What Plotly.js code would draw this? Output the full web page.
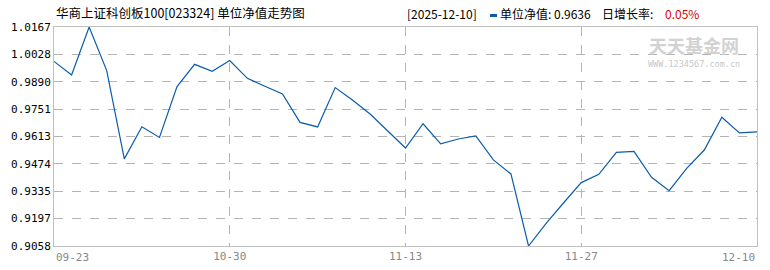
<!DOCTYPE html>
<html>
<head>
<meta charset="utf-8">
<script src="https://cdn.plot.ly/plotly-3.0.1.min.js"></script>
<style>html,body{margin:0;padding:0;background:#fff;}#chart{width:770px;height:270px;}</style>
</head>
<body>
<div id="chart"></div>
<script>
// Unit NAV series (41 points)
const navValues = [
  0.9993, 0.9924, 1.0167, 0.9946, 0.9499, 0.9662, 0.9608, 0.9865, 0.9978, 0.9943,
  0.9997, 0.9907, 0.9867, 0.9828, 0.9684, 0.9661, 0.9860, 0.9796, 0.9725, 0.9637,
  0.9554, 0.9677, 0.9575, 0.9600, 0.9615, 0.9494, 0.9423, 0.9058, 0.9173, 0.9277,
  0.9379, 0.9421, 0.9532, 0.9537, 0.9406, 0.9338, 0.9451, 0.9544, 0.9710, 0.9631,
  0.9636
];
const pointIndex = navValues.map((v, i) => i);
const xTickIndex = [0, 10, 20, 30, 40];
const xTickLabels = ['09-23', '10-30', '11-13', '11-27', '12-10'];
const yTickValues = [0.9058, 0.9197, 0.9335, 0.9474, 0.9613, 0.9751, 0.9890, 1.0028, 1.0167];
const yTickLabels = ['0.9058', '0.9197', '0.9335', '0.9474', '0.9613', '0.9751', '0.9890', '1.0028', '1.0167'];
const titleText = '华商上证科创板100[023324] 单位净值走势图';
const latestDate = '[2025-12-10]';
const latestNav = '0.9636';
const latestGrowth = '0.05%';

const monoFont = 'DejaVu Sans Mono, Liberation Mono, monospace';
const cjkFont = 'Noto Sans CJK SC, sans-serif';

const trace = {
  x: pointIndex,
  y: navValues,
  type: 'scatter',
  mode: 'lines',
  line: {color: '#0b5cab', width: 1.2},
  hoverinfo: 'skip'
};

const annotations = [
  {text: titleText, xref: 'paper', yref: 'paper', x: 0, y: 1, xanchor: 'left', yanchor: 'bottom', yshift: 3,
   showarrow: false, font: {family: cjkFont, size: 12.5, color: '#000'}},
  {text: latestDate, xref: 'paper', yref: 'paper', x: (405 - 54) / 703, y: 1, xanchor: 'left', yanchor: 'bottom', yshift: 3,
   showarrow: false, font: {family: cjkFont, size: 12, color: '#000'}},
  {text: '单位净值: ' + latestNav, xref: 'paper', yref: 'paper', x: (498 - 54) / 703, y: 1, xanchor: 'left', yanchor: 'bottom', yshift: 3,
   showarrow: false, font: {family: cjkFont, size: 12, color: '#000'}},
  {text: '日增长率: ', xref: 'paper', yref: 'paper', x: (600 - 54) / 703, y: 1, xanchor: 'left', yanchor: 'bottom', yshift: 3,
   showarrow: false, font: {family: cjkFont, size: 12, color: '#000'}},
  {text: latestGrowth, xref: 'paper', yref: 'paper', x: (663 - 54) / 703, y: 1, xanchor: 'left', yanchor: 'bottom', yshift: 3,
   showarrow: false, font: {family: cjkFont, size: 12, color: '#e00000'}},
  {text: '天天基金网', xref: 'paper', yref: 'paper', x: (694 - 54) / 703, y: 1, xanchor: 'center', yanchor: 'middle', yshift: -18,
   showarrow: false, font: {family: cjkFont, size: 18, color: '#d2d2d2', weight: 'bold'}},
  {text: 'WWW.1234567.com.cn', xref: 'paper', yref: 'paper', x: (694 - 54) / 703, y: 1, xanchor: 'center', yanchor: 'middle', yshift: -37,
   showarrow: false, font: {family: monoFont, size: 8.5, color: '#c8c8c8'}},
  {text: xTickLabels[0], xref: 'x', yref: 'paper', x: xTickIndex[0], y: 0, xanchor: 'left', yanchor: 'top', yshift: -3,
   showarrow: false, font: {family: monoFont, size: 11, color: '#888'}},
  {text: xTickLabels[4], xref: 'x', yref: 'paper', x: xTickIndex[4], y: 0, xanchor: 'right', yanchor: 'top', yshift: -3,
   showarrow: false, font: {family: monoFont, size: 11, color: '#888'}}
];

const layout = {
  width: 770, height: 270,
  margin: {l: 54, r: 13, t: 27, b: 24, pad: 0},
  paper_bgcolor: '#fff', plot_bgcolor: '#fff',
  showlegend: false,
  xaxis: {
    type: 'linear', range: [0, 40],
    tickmode: 'array', tickvals: xTickIndex.slice(1, 4), ticktext: xTickLabels.slice(1, 4),
    showgrid: true, gridcolor: '#b4b4b4', griddash: 'dash', gridwidth: 1,
    showline: true, linecolor: '#c0c0c0', linewidth: 1, mirror: true,
    zeroline: false, ticks: '', ticklen: 0,
    tickfont: {family: monoFont, size: 11, color: '#888'},
    fixedrange: true
  },
  yaxis: {
    range: [yTickValues[0], yTickValues[yTickValues.length - 1]],
    tickmode: 'array', tickvals: yTickValues, ticktext: yTickLabels,
    showgrid: true, gridcolor: '#b4b4b4', griddash: 'dash', gridwidth: 1,
    showline: true, linecolor: '#c0c0c0', linewidth: 1, mirror: true,
    zeroline: false, ticks: '', ticklen: 4, tickcolor: '#fff',
    tickfont: {family: monoFont, size: 11, color: '#000'},
    fixedrange: true
  },
  annotations: annotations,
  shapes: [{type: 'rect', xref: 'paper', yref: 'paper',
    x0: (490 - 54) / 703, x1: (497 - 54) / 703, y0: 1 + 10 / 219, y1: 1 + 13 / 219,
    fillcolor: '#0b5cab', line: {width: 0}}]
};

Plotly.newPlot('chart', [trace], layout, {displayModeBar: false, staticPlot: true});
</script>
</body>
</html>
